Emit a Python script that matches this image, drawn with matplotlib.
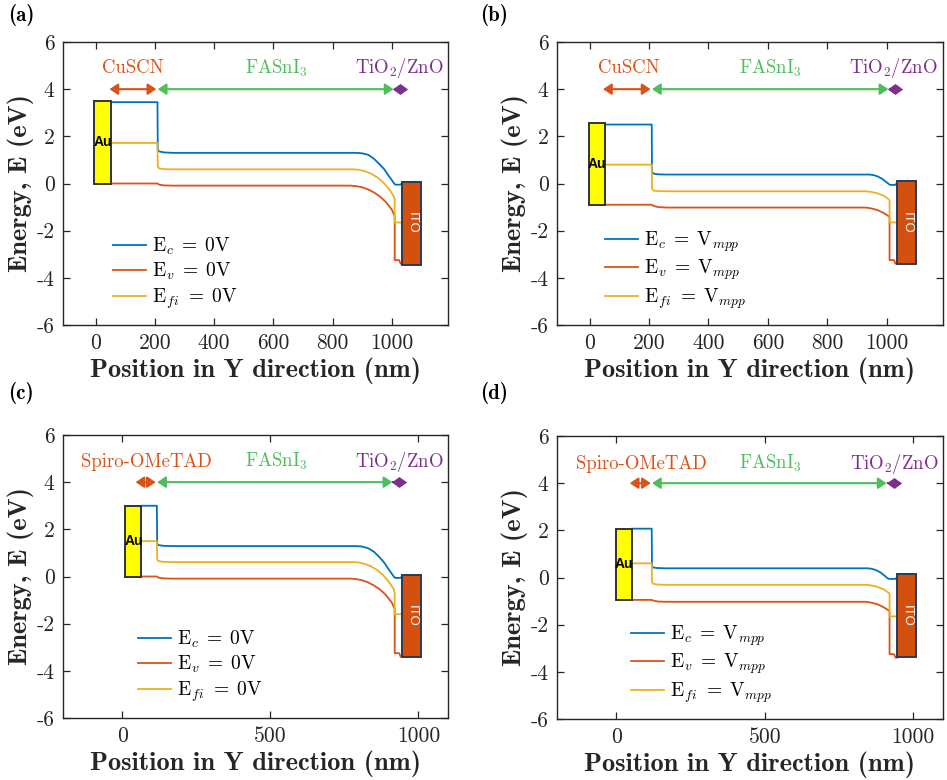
import numpy as np
import matplotlib
matplotlib.use('Agg')
import matplotlib.pyplot as plt
from matplotlib.patches import Rectangle
from matplotlib.path import Path

plt.rcParams['font.family'] = 'cmr10'
plt.rcParams['mathtext.fontset'] = 'cm'
plt.rcParams['axes.unicode_minus'] = False
plt.rcParams['axes.formatter.use_mathtext'] = False

# MATLAB-ish colours
C_EC = '#0072BD'
C_EV = '#D95319'
C_EFI = '#EDB120'
C_HTL = '#D95319'
C_ABS = '#4DBE5A'
C_ETL = '#7E2F8E'
C_AXIS = '#262626'

# ---------------- panel (a): CuSCN, 0 V ----------------
a_ec_x = [50, 209, 210, 215, 230, 260, 880, 900, 920, 940, 960, 975, 990, 1000, 1008, 1012, 1030, 1035]
a_ec_y = [3.45, 3.45, 1.42, 1.36, 1.32, 1.3, 1.3, 1.28, 1.22, 1.05, 0.8, 0.6, 0.32, 0.15, 0.0, -0.05, -0.05, 0.03]
a_efi_x = [50, 209, 210, 215, 230, 260, 870, 890, 910, 930, 950, 970, 990, 1005, 1010, 1010, 1030]
a_efi_y = [1.72, 1.72, 0.72, 0.64, 0.61, 0.6, 0.6, 0.58, 0.52, 0.42, 0.27, 0.06, -0.22, -0.5, -0.68, -1.65, -1.65]
a_ev_x = [50, 209, 215, 230, 260, 860, 880, 900, 920, 940, 960, 980, 1000, 1010, 1010, 1025, 1030, 1035]
a_ev_y = [0.0, 0.0, -0.05, -0.08, -0.09, -0.09, -0.11, -0.16, -0.25, -0.38, -0.55, -0.78, -1.1, -1.38, -3.25, -3.25, -3.4, -3.4]

# ---------------- panel (b): CuSCN, Vmpp ----------------
b_ec_x = [53, 209, 210, 215, 230, 260, 940, 955, 970, 985, 1000, 1008, 1012, 1030, 1035]
b_ec_y = [2.5, 2.5, 0.5, 0.42, 0.39, 0.38, 0.38, 0.36, 0.3, 0.2, 0.05, -0.03, -0.06, -0.06, 0.03]
b_efi_x = [53, 209, 210, 215, 230, 260, 930, 950, 970, 990, 1005, 1010, 1010, 1030]
b_efi_y = [0.8, 0.8, -0.22, -0.3, -0.32, -0.33, -0.33, -0.36, -0.42, -0.52, -0.65, -0.72, -1.65, -1.65]
b_ev_x = [53, 209, 215, 230, 260, 930, 950, 970, 990, 1005, 1010, 1010, 1025, 1030, 1035]
b_ev_y = [-0.9, -0.9, -0.95, -1.0, -1.02, -1.02, -1.06, -1.13, -1.25, -1.37, -1.42, -3.25, -3.25, -3.4, -3.4]

# ---------------- panel (c): Spiro-OMeTAD, 0 V ----------------
c_ec_x = [65, 117, 118, 123, 140, 170, 790, 810, 830, 850, 870, 885, 900, 910, 918, 922, 940, 946]
c_ec_y = [3.0, 3.0, 1.38, 1.33, 1.3, 1.29, 1.29, 1.27, 1.2, 1.05, 0.8, 0.58, 0.3, 0.12, -0.02, -0.06, -0.06, 0.03]
c_efi_x = [65, 117, 118, 123, 140, 170, 780, 800, 820, 840, 860, 880, 900, 915, 920, 920, 945]
c_efi_y = [1.5, 1.5, 0.72, 0.65, 0.62, 0.61, 0.61, 0.59, 0.53, 0.43, 0.28, 0.07, -0.22, -0.5, -0.68, -1.6, -1.6]
c_ev_x = [65, 117, 123, 140, 170, 770, 790, 810, 830, 850, 870, 890, 910, 920, 920, 935, 940, 946]
c_ev_y = [0.0, 0.0, -0.05, -0.08, -0.09, -0.09, -0.11, -0.16, -0.25, -0.38, -0.55, -0.78, -1.1, -1.38, -3.25, -3.25, -3.4, -3.4]

# ---------------- panel (d): Spiro-OMeTAD, Vmpp ----------------
d_ec_x = [53, 119, 120, 125, 140, 170, 845, 860, 875, 890, 905, 913, 917, 940, 946]
d_ec_y = [2.07, 2.07, 0.47, 0.42, 0.4, 0.39, 0.39, 0.37, 0.31, 0.21, 0.06, -0.03, -0.06, -0.06, 0.03]
d_efi_x = [53, 119, 120, 125, 140, 170, 840, 860, 880, 900, 915, 920, 920, 940]
d_efi_y = [0.6, 0.6, -0.2, -0.27, -0.3, -0.31, -0.31, -0.34, -0.4, -0.5, -0.63, -0.7, -1.65, -1.65]
d_ev_x = [53, 119, 125, 140, 170, 840, 860, 880, 900, 915, 920, 920, 935, 940, 946]
d_ev_y = [-0.95, -0.95, -0.98, -1.02, -1.03, -1.03, -1.07, -1.14, -1.26, -1.38, -1.43, -3.25, -3.25, -3.4, -3.4]

# electrode boxes: (x0, x1, y0, y1)
au_boxes = [(-5, 52, 0, 3.5), (-3, 53, -0.93, 2.57), (11, 65, 0, 3.0), (0, 53, -0.96, 2.07)]
ito_boxes = [(1036, 1100, -3.45, 0.08), (1036, 1099, -3.4, 0.1), (946, 1010, -3.43, 0.08), (946, 1010, -3.35, 0.13)]

# layer arrows (x0, x1) at E = 4
htl_arrows = [(47, 205), (45, 205), (45, 113), (45, 116)]
abs_arrows = [(210, 1006), (210, 1006), (118, 912), (120, 910)]
etl_arrows = [(1010, 1045), (1010, 1045), (915, 951), (915, 953)]

htl_names = ['CuSCN', 'CuSCN', 'Spiro-OMeTAD', 'Spiro-OMeTAD']
htl_label_x = [126, 131, 81, 84]
abs_label_x = [610, 608, 519, 517]
etl_label_x = [1027, 1023, 935, 935]
label_y = [4.9, 4.9, 4.86, 4.82]

bias = ['0\\mathrm{V}', '\\mathrm{V}_{mpp}', '0\\mathrm{V}', '\\mathrm{V}_{mpp}']
panel_tags = ['(a)', '(b)', '(c)', '(d)']
xlims = [(-110, 1190), (-110, 1190), (-200, 1100), (-200, 1100)]
xticks = [[0, 200, 400, 600, 800, 1000], [0, 200, 400, 600, 800, 1000], [0, 500, 1000], [0, 500, 1000]]
legend_x = [0.13, 0.125, 0.195, 0.192]

curves = [
    (a_ec_x, a_ec_y, a_ev_x, a_ev_y, a_efi_x, a_efi_y),
    (b_ec_x, b_ec_y, b_ev_x, b_ev_y, b_efi_x, b_efi_y),
    (c_ec_x, c_ec_y, c_ev_x, c_ev_y, c_efi_x, c_efi_y),
    (d_ec_x, d_ec_y, d_ev_x, d_ev_y, d_efi_x, d_efi_y),
]

W, H = 947, 780
fig = plt.figure(figsize=(W / 100, H / 100), dpi=100)
# axes boxes in pixels: left, top, right, bottom
boxes_px = [(63, 42, 448, 325), (557, 42, 943, 325), (63, 435, 448, 718), (557, 436, 943, 719)]

# flat diamond used for the very short ETL double arrow
diamond = Path([(-1, 0), (0, 0.72), (1, 0), (0, -0.72), (-1, 0)],
               [Path.MOVETO, Path.LINETO, Path.LINETO, Path.LINETO, Path.CLOSEPOLY])


def double_arrow(ax, x0, x1, y, color):
    ax.annotate('', xy=(x1, y), xytext=(x0, y),
                arrowprops=dict(arrowstyle='<|-|>,head_length=0.45,head_width=0.3',
                                color=color, lw=1.5, mutation_scale=11,
                                shrinkA=0, shrinkB=0))


for i in range(4):
    l, t, r, b = boxes_px[i]
    ax = fig.add_axes([l / W, 1 - b / H, (r - l) / W, (b - t) / H])
    ecx, ecy, evx, evy, efx, efy = curves[i]

    # electrodes
    x0, x1, y0, y1 = au_boxes[i]
    ax.add_patch(Rectangle((x0, y0), x1 - x0, y1 - y0, facecolor='#FFFF00',
                           edgecolor='#333333', lw=1.4, zorder=3))
    ax.text((x0 + x1) / 2, (y0 + y1) / 2, 'Au', family='Liberation Sans',
            fontweight='bold', fontsize=10, ha='center', va='center', zorder=4)
    x0, x1, y0, y1 = ito_boxes[i]
    ax.add_patch(Rectangle((x0, y0), x1 - x0, y1 - y0, facecolor='#D4500F',
                           edgecolor='#2B3A55', lw=1.4, zorder=3))
    ax.text((x0 + x1) / 2, (y0 + y1) / 2, 'ITO', family='Liberation Sans',
            color='white', fontsize=9.5, rotation=-90, ha='center', va='center', zorder=4)

    ax.plot(ecx, ecy, color=C_EC, lw=1.3, label=r'$\mathrm{E}_c\;=\;%s$' % bias[i])
    ax.plot(evx, evy, color=C_EV, lw=1.3, label=r'$\mathrm{E}_v\;=\;%s$' % bias[i])
    ax.plot(efx, efy, color=C_EFI, lw=1.3,
            label=r'$\mathrm{E}_{f\hspace{0.1}i}\;=\;%s$' % bias[i])

    # layer arrows and names
    double_arrow(ax, htl_arrows[i][0], htl_arrows[i][1], 4.0, C_HTL)
    double_arrow(ax, abs_arrows[i][0], abs_arrows[i][1], 4.0, C_ABS)
    ex0, ex1 = etl_arrows[i]
    ax.plot([ex0, ex1], [4.0, 4.0], color=C_ETL, lw=1.5)
    ax.plot([(ex0 + ex1) / 2], [4.0], marker=diamond, markersize=11,
            color=C_ETL, markeredgewidth=0, linestyle='none')
    ax.text(htl_label_x[i], label_y[i], htl_names[i], color=C_HTL, fontsize=13.5,
            ha='center', va='center')
    ax.text(abs_label_x[i], label_y[i], r'FASnI$_3$', color=C_ABS, fontsize=13.5,
            ha='center', va='center')
    ax.text(etl_label_x[i], label_y[i], r'TiO$_2$/ZnO', color=C_ETL, fontsize=13.5,
            ha='center', va='center')

    ax.set_xlim(*xlims[i])
    ax.set_ylim(-6, 6)
    ax.set_xticks(xticks[i])
    ax.set_yticks([-6, -4, -2, 0, 2, 4, 6])
    ax.tick_params(direction='in', top=True, right=True, length=5, width=0.9,
                   colors=C_AXIS, labelsize=15.5, pad=6)
    for sp in ax.spines.values():
        sp.set_color(C_AXIS)
        sp.set_linewidth(1.0)

    ax.set_xlabel('Position in Y direction (nm)', family='cmb10', fontsize=19,
                  color=C_AXIS, labelpad=3)
    ax.set_ylabel('Energy, E (eV)', family='cmb10', fontsize=19, color=C_AXIS,
                  labelpad=2)

    ax.legend(loc='lower left', bbox_to_anchor=(legend_x[i], 0.05), frameon=False,
              fontsize=14, handlelength=1.7, handletextpad=0.3, labelspacing=0.2,
              borderpad=0, borderaxespad=0)

    fig.text((8 if i % 2 == 0 else 480) / W, 1 - (15 if i < 2 else 393) / H,
             panel_tags[i], family='cmb10', fontsize=15, ha='left', va='center')

fig.savefig('out.png', dpi=100)
